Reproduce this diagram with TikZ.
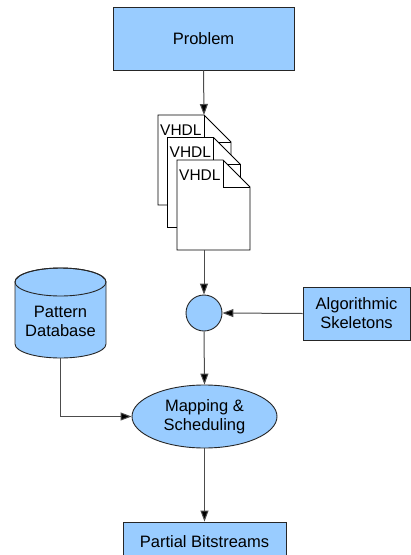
\documentclass[tikz,border=0pt]{standalone}
\usepackage{fontspec}
\setmainfont{Liberation Sans}
\usetikzlibrary{arrows.meta,shapes.geometric}
\definecolor{boxblue}{HTML}{99CCFF}
\tikzset{
  blok/.style={draw=black!85,fill=boxblue,line width=0.9pt,inner sep=0pt,align=center,font=\fontsize{16.5}{19}\selectfont},
  link/.style={draw=black!70,line width=1pt,-{Triangle[length=11pt,width=8pt,fill=black]}},
  sheet/.style={draw=black,fill=white,line width=0.9pt}
}
\begin{document}
\begin{tikzpicture}[x=1pt,y=-1pt]
  \useasboundingbox (0,0) rectangle (411,555);
  \clip (0,0) rectangle (411,555);
  \node[blok,minimum width=181pt,minimum height=63pt] (problem) at (203.5,38.5) {Problem};
  \foreach \dx/\dy [count=\i] in {0/0,9.5/22.5,19/45}{
    \filldraw[sheet] (158+\dx,115+\dy) -- ++(46,0) -- ++(27,27) -- ++(0,63) -- ++(-73,0) -- cycle;
    \draw[sheet,fill=none] (204+\dx,115+\dy) -- ++(0,27) -- ++(27,0);
    \node[anchor=west,inner sep=0pt,font=\fontsize{15.5}{18}\selectfont] (vhdl\i) at (160+\dx,130+\dy) {VHDL};
  }
  \coordinate (doctop) at (204,115);
  \coordinate (docbot) at (204,250);
  \node[blok,circle,minimum size=36pt] (join) at (204,313) {};
  \node[blok,minimum width=107pt,minimum height=53pt] (skel) at (356.5,313.5) {Algorithmic\\Skeletons};
  \filldraw[draw=black!85,fill=boxblue,line width=0.9pt] (15,282) -- (15,344) arc[start angle=180,end angle=0,x radius=45.5,y radius=14] -- (106,282) arc[start angle=0,end angle=-180,x radius=45.5,y radius=14] -- cycle;
  \draw[draw=black!85,line width=0.9pt] (60.5,282) ellipse[x radius=45.5,y radius=14];
  \node[align=center,inner sep=0pt,font=\fontsize{16.5}{19}\selectfont] (db) at (60.5,321) {Pattern\\Database};
  \coordinate (dbbot) at (60.5,358);
  \node[blok,ellipse,minimum width=145pt,minimum height=63pt] (map) at (204.5,416.5) {Mapping \&\\Scheduling};
  \node[blok,minimum width=163pt,minimum height=40pt] (bits) at (204.5,542) {Partial Bitstreams};
  \draw[link] (problem.south) -- (doctop);
  \draw[link] (docbot) -- (join.north);
  \draw[link] (skel.west) -- (join.east);
  \draw[link] (join.south) -- (map.north);
  \draw[link] (dbbot) |- (map.west);
  \draw[link] (map.south) -- (bits.north);
\end{tikzpicture}
\end{document}
